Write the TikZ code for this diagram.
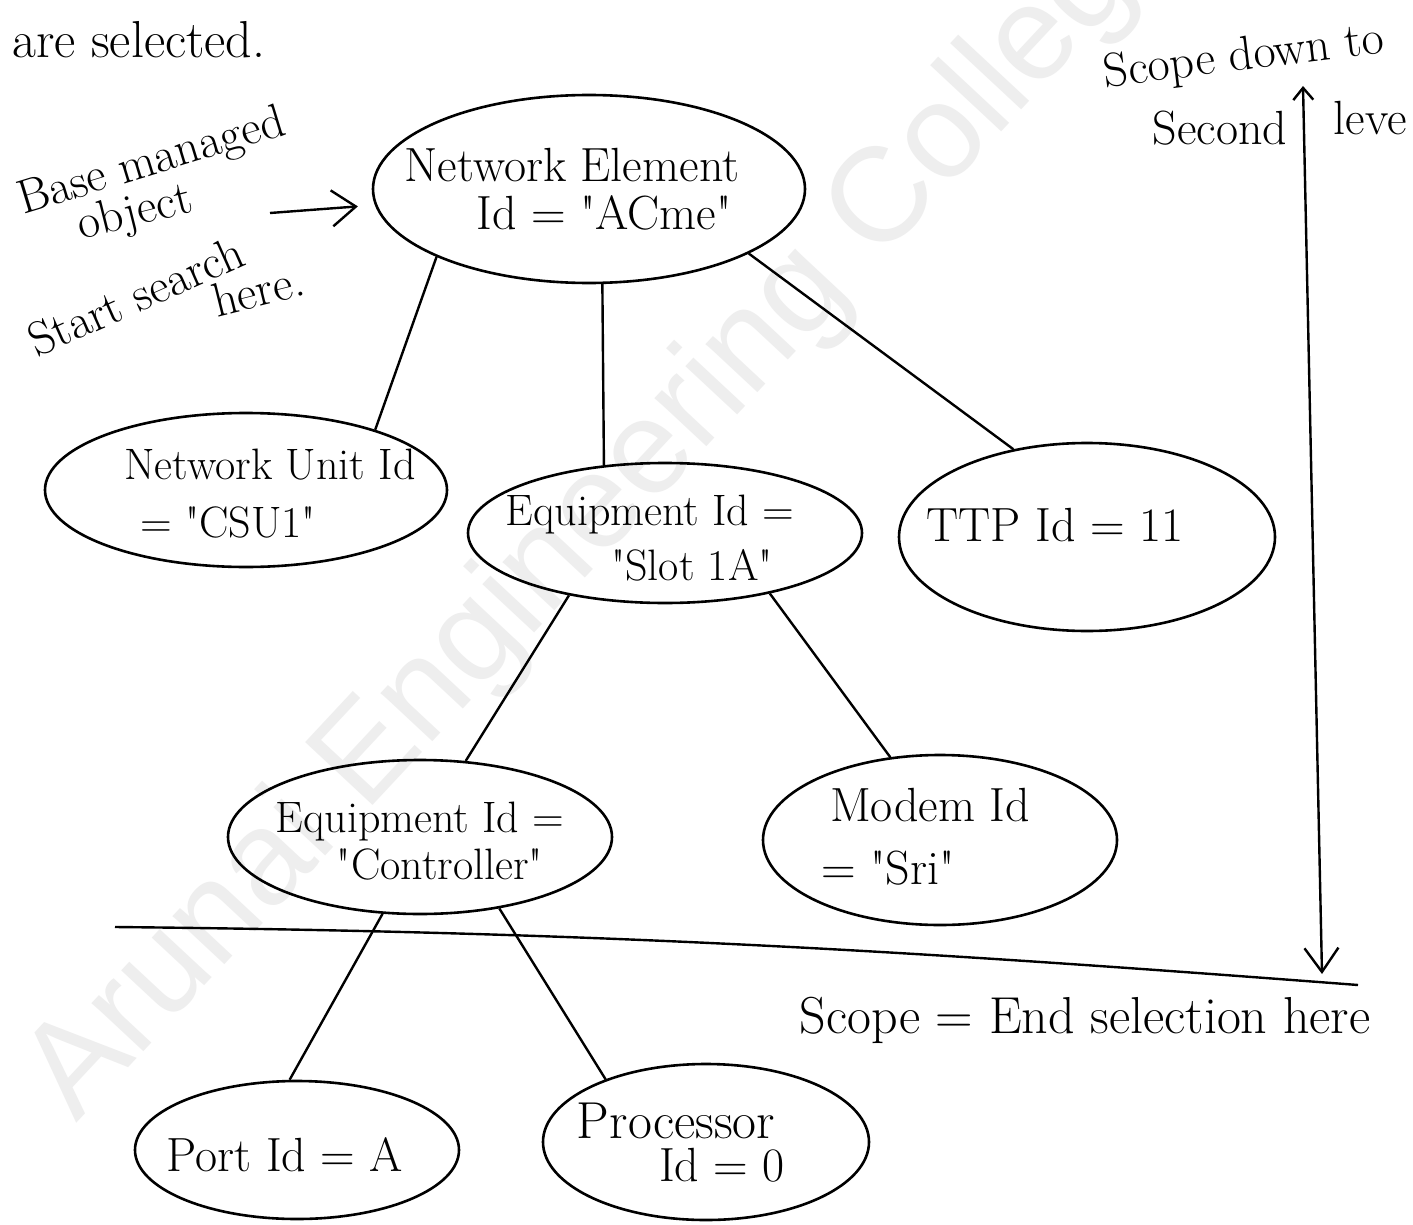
\documentclass[tikz,border=0pt]{standalone}
\usepackage{fontspec}
\newfontfamily\markfont{Liberation Sans}
\usetikzlibrary{shapes.geometric,arrows.meta}
\newcommand{\qq}{\textquotedbl}
\begin{document}
\begin{tikzpicture}[x=1pt,y=-1pt,
  obj/.style={draw, ellipse, inner sep=0pt, line width=2.6pt},
  hw/.style={font=\fontsize{44}{52}\selectfont, inner sep=0pt, anchor=center},
  hwl/.style={hw, font=\fontsize{48}{56}\selectfont},
  hwxl/.style={hw, font=\fontsize{52}{60}\selectfont},
  link/.style={line width=2.4pt},
  barb/.style={-{Straight Barb[length=24pt,width=36pt,line width=2.4pt]}},
  smallbarb/.style={{Straight Barb[length=12pt,width=20pt,line width=2.4pt]}-{Straight Barb[length=24pt,width=34pt,line width=2.4pt]}},
]
\useasboundingbox[fill=white] (0,0) rectangle (1413,1225);

% faint diagonal watermark
\begin{scope}
  \clip (0,0) rectangle (1413,1225);
  \node[text=gray!13, font=\markfont\fontsize{134}{134}\selectfont,
        anchor=base west, rotate=47, inner sep=0pt] (wm) at (76,1124)
        {Arunai Engineering College};
\end{scope}

% managed objects
\node[obj, minimum width=432pt, minimum height=188pt] (ne)    at (589,189)  {};
\node[obj, minimum width=402pt, minimum height=154pt] (nu)    at (246,490)  {};
\node[obj, minimum width=394pt, minimum height=140pt] (slot)  at (665,533)  {};
\node[obj, minimum width=376pt, minimum height=188pt] (ttp)   at (1087,537) {};
\node[obj, minimum width=384pt, minimum height=154pt] (ctrl)  at (420,837)  {};
\node[obj, minimum width=354pt, minimum height=170pt] (modem) at (940,840)  {};
\node[obj, minimum width=324pt, minimum height=138pt] (port)  at (297,1150) {};
\node[obj, minimum width=326pt, minimum height=156pt] (proc)  at (706,1142) {};

% object labels
\node[hwl] (neA)    at (572,165)  {Network Element};
\node[hwl] (neB)    at (604,213)  {Id = \qq ACme\qq};
\node[hw]  (nuA)    at (270,465)  {Network Unit Id};
\node[hw]  (nuB)    at (228,522)  {= \qq CSU1\qq};
\node[hw]  (slotA)  at (650,515)  {Equipment Id =};
\node[hw]  (slotB)  at (692,565)  {\qq Slot 1A\qq};
\node[hwl] (ttpA)   at (1055,525) {TTP Id = 11};
\node[hw]  (ctrlA)  at (420,822)  {Equipment Id =};
\node[hw]  (ctrlB)  at (440,864)  {\qq Controller\qq};
\node[hwl] (modemA) at (930,805)  {Modem Id};
\node[hwl] (modemB) at (888,868)  {= \qq Sri\qq};
\node[hwl] (portA)  at (285,1155) {Port Id = A};
\node[hwxl] (procA) at (676,1121) {Processor};
\node[hwl] (procB)  at (722,1165) {Id = 0};

% containment tree
\draw[link] (ne.204)   -- (nu.25);
\draw[link] (ne.278)   -- (slot.132);
\draw[link] (ne.338)   -- (ttp.130);
\draw[link] (slot.213) -- (ctrl.59);
\draw[link] (slot.330) -- (modem.121);
\draw[link] (ctrl.244) -- (port.96);
\draw[link] (ctrl.318) -- (proc.148);

% base object annotation
\node[hwxl] (topnote) [anchor=west] at (12,40) {are selected.};
\node[hwl, rotate=17] (baseA) at (152,163) {Base managed};
\node[hwl, rotate=14] (baseB) at (135,214) {object};
\node[hwl, rotate=24] (baseC) at (136,296) {Start search};
\node[hwl, rotate=14] (baseD) at (258,290) {here.};
\coordinate (basetail) at (270,213);
\draw[link, barb, shorten >=17pt] (basetail) -- (ne);

% scope annotation
\node[hwl, rotate=7] (scopeA) at (1244,58)  {Scope down to};
\node[hwl]           (scopeB) at (1220,128) {Second};
\node[hwl]           (scopeC) at (1370,118) {leve};
\coordinate (lvtop) at (1303,86);
\coordinate (lvbot) at (1322,974);
\draw[link, smallbarb] (lvtop) -- (lvbot);

% scope cut-off line
\coordinate (cutl) at (115,927);
\coordinate (cutr) at (1358,985);
\draw[link] (cutl) .. controls (600,932) and (900,950) .. (cutr);
\node[hwxl] (endnote) at (1085,1020) {Scope = End selection here};
\end{tikzpicture}
\end{document}
